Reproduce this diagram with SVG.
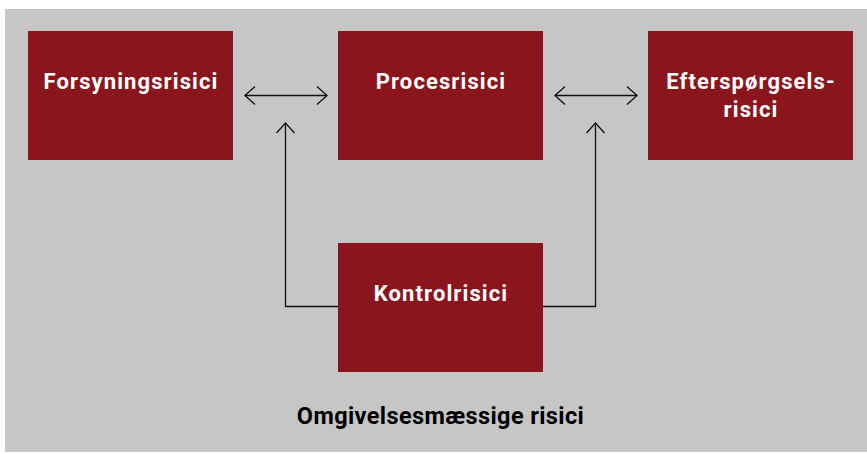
<svg xmlns="http://www.w3.org/2000/svg" width="867" height="454" viewBox="0 0 867 454">
<style>
.box{fill:#8B151C}
.lbl{font-family:Roboto,"Liberation Sans",sans-serif;font-weight:700;font-size:22px;fill:#fff;text-anchor:middle;letter-spacing:1.1px}
.conn{fill:none;stroke:#111;stroke-width:1.3}
.cap{font-family:Roboto,"Liberation Sans",sans-serif;font-weight:700;font-size:23.5px;fill:#000;text-anchor:middle;letter-spacing:0.4px}
</style>
<defs>
<marker id="ah" viewBox="0 0 12 20" refX="11" refY="10" markerWidth="12" markerHeight="20" markerUnits="userSpaceOnUse" orient="auto-start-reverse">
<path d="M1 1 L11 10 L1 19" fill="none" stroke="#111" stroke-width="1.3"/>
</marker>
</defs>
<rect x="5" y="9" width="862" height="443" fill="#C6C6C6"/>
<g id="forsyning"><rect class="box" x="28" y="31" width="205" height="129"/><text class="lbl" x="131" y="89">Forsyningsrisici</text></g>
<g id="proces"><rect class="box" x="338" y="31" width="205" height="129"/><text class="lbl" x="441" y="89">Procesrisici</text></g>
<g id="efterspoergsel"><rect class="box" x="648" y="31" width="205" height="129"/><text class="lbl" x="751" y="89">Efterspørgsels-</text><text class="lbl" x="751" y="117">risici</text></g>
<g id="kontrol"><rect class="box" x="338" y="243" width="205" height="129"/><text class="lbl" x="441" y="301">Kontrolrisici</text></g>
<g id="connectors">
<line class="conn" x1="245" y1="95.5" x2="327" y2="95.5" marker-start="url(#ah)" marker-end="url(#ah)"/>
<line class="conn" x1="555" y1="95.5" x2="637" y2="95.5" marker-start="url(#ah)" marker-end="url(#ah)"/>
<path class="conn" d="M338 306.5 H285.5 V123" marker-end="url(#ah)"/>
<path class="conn" d="M543 306.5 H595.5 V123" marker-end="url(#ah)"/>
</g>
<text class="cap" x="440.5" y="424">Omgivelsesmæssige risici</text>
</svg>
